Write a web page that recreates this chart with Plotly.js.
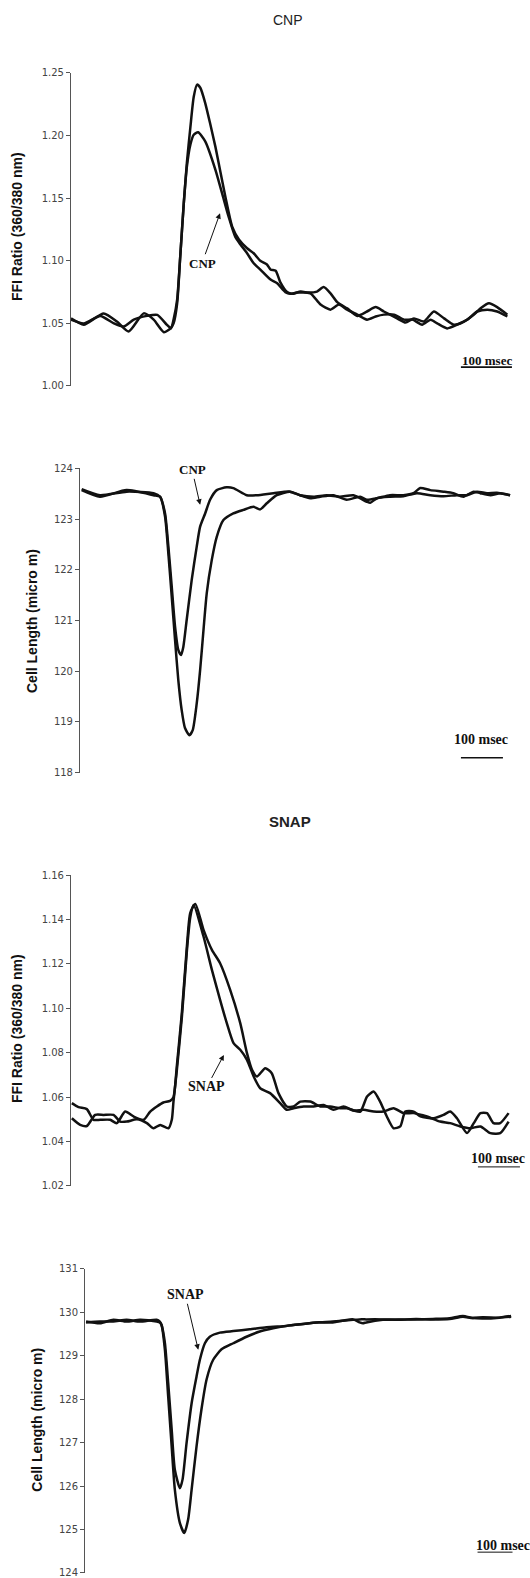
<!DOCTYPE html>
<html>
<head>
<meta charset="utf-8">
<script src="https://cdn.plot.ly/plotly-3.0.1.min.js"></script>
<style>html,body{margin:0;padding:0;background:#fff;}#chart{width:530px;height:1578px;}</style>
</head>
<body>
<div id="chart"></div>
<script>
// ---------- Panel 1: CNP, FFI ratio (time in msec) ----------
var cnpRatioT_A = [0,25,64,90,113,142.5,162,182,195,201,208,214,221,227,234,240.5,247,253.6,263,273,283,292.8,302.6,316,329,345,358,371,384,391,401,410,423.5,433,450,466,482,495,508.5,521.6,541,561,580,597,613,639,655.5,672,691.5,711,731,750,770,789.5,802.6,819,835,855];
var cnpRatioV_A = [1.054,1.049,1.058,1.0515,1.0435,1.058,1.053,1.043,1.046,1.050,1.066,1.103,1.146,1.178,1.207,1.231,1.2407,1.238,1.226,1.209,1.191,1.171,1.151,1.127,1.117,1.110,1.106,1.100,1.097,1.093,1.092,1.083,1.075,1.0736,1.0754,1.0746,1.0754,1.079,1.074,1.067,1.062,1.056,1.0595,1.063,1.0595,1.054,1.0507,1.054,1.0515,1.0595,1.054,1.049,1.0515,1.057,1.062,1.066,1.063,1.057];
var cnpRatioT_B = [0,25,57.5,84,103,123,149,169,188,196,201,208,214,221,227,234,240.5,249,263,283,296,309,322,332,345,358,371,391,404,420,430,443,469,489,508.5,525,541,561,580,597,613,633,652,669,688,704.6,717.6,737,757,776.5,796,816,835,855];
var cnpRatioV_B = [1.053,1.050,1.056,1.050,1.0475,1.053,1.056,1.0568,1.0488,1.046,1.053,1.069,1.103,1.146,1.175,1.193,1.2007,1.2026,1.1954,1.1727,1.154,1.135,1.119,1.113,1.106,1.098,1.093,1.085,1.082,1.075,1.0736,1.0746,1.074,1.065,1.061,1.065,1.061,1.057,1.053,1.0555,1.057,1.057,1.053,1.053,1.049,1.053,1.050,1.046,1.049,1.053,1.0595,1.061,1.0595,1.0555];

// ---------- Panel 2: CNP, cell length ----------
var cnpLenT_C = [0,43.7,107,171,186.6,198.5,206.4,214.4,222.3,230,238,246,256.5,264.4,274,282,290,297.8,309.7,321.6,337.5,361,385,409,425,440.7,464.5,496,520,544,568,599.5,631,663,679,703,734,766,790,806,830,861.5,885,909,933,949,973,996.5,1020];
var cnpLenV_C = [123.57,123.44,123.57,123.47,123.44,123.05,122.32,121.47,120.62,119.83,119.24,118.88,118.74,118.84,119.37,120.02,120.81,121.54,122.19,122.65,122.98,123.11,123.18,123.24,123.19,123.31,123.47,123.54,123.47,123.41,123.44,123.47,123.38,123.44,123.38,123.41,123.47,123.47,123.51,123.61,123.57,123.54,123.51,123.44,123.54,123.51,123.47,123.51,123.47];
var cnpLenT_D = [0,43.7,107,171,186.6,198.5,206.4,214.4,222.3,230,236.6,242,250,262,274,282,294,305.7,321.6,345,361,393,417,456.6,496,520,552,583.6,615,647,679,687,703,734,766,798,830,861.5,893,917,941,965,988.5,1020];
var cnpLenV_D = [123.59,123.47,123.54,123.51,123.44,123.11,122.46,121.67,120.88,120.42,120.32,120.48,121.01,121.80,122.46,122.85,123.11,123.38,123.57,123.625,123.61,123.47,123.47,123.51,123.54,123.47,123.44,123.47,123.44,123.47,123.34,123.32,123.41,123.44,123.45,123.51,123.47,123.45,123.47,123.47,123.54,123.51,123.52,123.47];

// ---------- Panel 3: SNAP, FFI ratio ----------
var snapRatioT_E = [0,15.9,35.7,51.6,67.5,91.3,107,127,147,171,186.6,202.5,218,234,242,250,262,274,282,294,313.6,333.5,353,377,401,417,429,440.7,460.5,476,492,512,528,544,568,591.5,615,639,655,671,687,703,718.6,734,750,766,782,794,814,830,861.5,885,901,917,941,957,973,988.5,1004,1020,1040];
var snapRatioV_E = [1.0573,1.0555,1.0546,1.0498,1.0498,1.0498,1.0483,1.0535,1.0513,1.0498,1.0535,1.0558,1.0576,1.0583,1.060,1.074,1.098,1.128,1.143,1.147,1.1353,1.1263,1.1203,1.1083,1.0933,1.0798,1.0723,1.0693,1.073,1.0708,1.0618,1.0558,1.0558,1.058,1.058,1.0558,1.0558,1.055,1.055,1.054,1.0535,1.0603,1.0625,1.058,1.0513,1.046,1.0468,1.0535,1.0535,1.0513,1.0505,1.052,1.0535,1.0505,1.0438,1.0483,1.0528,1.0528,1.0483,1.0483,1.0528];
var snapRatioT_F = [0,19.9,35.7,55.6,75.4,99.3,115,131,155,178.7,194.5,210.4,230,238,242,250,262,274,282,290,313.6,333.5,353,369,385,401,417,433,448.6,472,496,512,528,552,575.6,599.5,623,647,671,695,718.6,742,766,790,814,845.6,877,901,925,949,973,996.5,1020,1040];
var snapRatioV_F = [1.0505,1.0475,1.047,1.052,1.052,1.052,1.049,1.049,1.050,1.0483,1.046,1.0475,1.046,1.0498,1.058,1.072,1.096,1.126,1.141,1.1465,1.1323,1.1173,1.1038,1.0933,1.0843,1.0813,1.0768,1.0693,1.064,1.0618,1.0573,1.0543,1.055,1.0558,1.0558,1.0565,1.0543,1.0558,1.054,1.0543,1.0535,1.0535,1.055,1.0528,1.0528,1.0513,1.049,1.0483,1.0468,1.046,1.0468,1.0438,1.0438,1.049];

// ---------- Panel 4: SNAP, cell length ----------
var snapLenT_G = [0,40,78,116,154,202,211,216,225.6,235,245,254,268.5,281,292,302,316,330,344.6,363.7,387.5,421,459,497,535,573,592,659,706,763.5,782.5,792,801.6,849,897,944,992,1040,1078,1106,1135,1182,1216];
var snapLenV_G = [129.79,129.75,129.83,129.79,129.83,129.79,129.77,129.71,129.14,128.06,126.91,125.92,125.15,124.92,125.23,125.92,126.91,127.76,128.45,128.91,129.15,129.29,129.44,129.56,129.635,129.69,129.71,129.77,129.77,129.84,129.77,129.75,129.77,129.83,129.84,129.84,129.85,129.865,129.92,129.87,129.86,129.88,129.92];
var snapLenT_H = [0,40,78,116,154,202,211,216,225.6,235,245,254,268.5,276,287.5,302,316,325.6,340,354,383,421,468,516,573,592,659,706,763.5,782.5,801.6,849,897,944,992,1040,1078,1106,1135,1182,1216];
var snapLenV_H = [129.77,129.79,129.79,129.83,129.79,129.83,129.79,129.71,129.29,128.37,127.30,126.38,125.95,126.15,126.99,127.91,128.52,128.91,129.29,129.44,129.535,129.57,129.61,129.66,129.69,129.71,129.77,129.79,129.83,129.84,129.84,129.84,129.83,129.85,129.84,129.85,129.90,129.87,129.89,129.88,129.90];

// ---------- text ----------
var panelTitles = ["CNP", "SNAP"];
var yTitles = ["FFI Ratio (360/380 nm)", "Cell Length (micro m)", "FFI Ratio (360/380 nm)", "Cell Length (micro m)"];
var arrowLabels = ["CNP", "CNP", "SNAP", "SNAP"];
var scaleLabel = "100 msec";
var scaleLength = 100; // msec

var lineStyle = {color: '#111', width: 2.5, shape: 'spline', smoothing: 0.6};
function tr(x, y, xa, ya) {
  return {x: x, y: y, xaxis: xa, yaxis: ya, type: 'scatter', mode: 'lines', line: lineStyle, hoverinfo: 'skip'};
}
var data = [
  tr(cnpRatioT_A, cnpRatioV_A, 'x', 'y'),
  tr(cnpRatioT_B, cnpRatioV_B, 'x', 'y'),
  tr(cnpLenT_C, cnpLenV_C, 'x2', 'y2'),
  tr(cnpLenT_D, cnpLenV_D, 'x2', 'y2'),
  tr(snapRatioT_E, snapRatioV_E, 'x3', 'y3'),
  tr(snapRatioT_F, snapRatioV_F, 'x3', 'y3'),
  tr(snapLenT_G, snapLenV_G, 'x4', 'y4'),
  tr(snapLenT_H, snapLenV_H, 'x4', 'y4')
];

function xax(dom, rng, anchor) {
  return {domain: dom, range: rng, visible: false, anchor: anchor, fixedrange: true};
}
function yax(dom, rng, dtick, fmt, anchor) {
  return {domain: dom, range: rng, anchor: anchor, showline: true, linecolor: '#555', linewidth: 1,
    ticks: 'outside', ticklen: 4, tickcolor: '#555', tickwidth: 1, dtick: dtick, tick0: rng[0], tickformat: fmt,
    ticklabeloverflow: 'allow',
    tickfont: {family: 'DejaVu Sans', size: 10, color: '#444'}, showgrid: false, zeroline: false, fixedrange: true};
}

var serifBold = 'Liberation Serif';
function arrowAnn(xr, yr, x, y, ax, ay, text, size) {
  return {xref: xr, yref: yr, x: x, y: y, ax: ax, ay: ay, text: '<b>' + text + '</b>', showarrow: true,
    arrowhead: 2, arrowsize: 1.1, arrowwidth: 1, arrowcolor: '#111', standoff: 0,
    font: {family: serifBold, size: size, color: '#111'}};
}
function scaleAnn(xr, yr, x, y, size, xanchor) {
  return {xref: xr, yref: yr, x: x, y: y, text: '<b>' + scaleLabel + '</b>', showarrow: false,
    xanchor: xanchor || 'center', yanchor: 'middle', font: {family: serifBold, size: size, color: '#111'}};
}
function yTitle(x, y, text) {
  return {xref: 'paper', yref: 'paper', x: x, y: y, text: '<b>' + text + '</b>', showarrow: false, textangle: -90,
    xanchor: 'center', yanchor: 'middle', font: {family: 'Liberation Sans, Arial', size: 14, color: '#111'}};
}
function bar(xr, yr, x0, y, w) {
  return {type: 'line', xref: xr, yref: yr, x0: x0, x1: x0 + scaleLength, y0: y, y1: y, line: {color: '#111', width: w}};
}

var layout = {
  width: 530, height: 1578,
  margin: {l: 0, r: 0, t: 0, b: 0},
  paper_bgcolor: '#fff', plot_bgcolor: '#fff',
  showlegend: false,
  xaxis: xax([0.13396, 0.97170], [0, 870], 'y'),
  yaxis: yax([0.75539, 0.95374], [1.00, 1.25], 0.05, '.2f', 'x'),
  xaxis2: xax([0.15094, 0.96717], [-4, 1026], 'y2'),
  yaxis2: yax([0.51033, 0.70323], [118, 124], 1, 'd', 'x2'),
  xaxis3: xax([0.13396, 0.98340], [-2, 1070], 'y3'),
  yaxis3: yax([0.24842, 0.44550], [1.02, 1.16], 0.02, '.2f', 'x3'),
  xaxis4: xax([0.16038, 1.0], [-3, 1270], 'y4'),
  yaxis4: yax([0.00317, 0.19582], [124, 131], 1, 'd', 'x4'),
  annotations: [
    {xref: 'paper', yref: 'paper', x: 0.5434, y: 0.98733, text: panelTitles[0], showarrow: false,
     xanchor: 'center', yanchor: 'middle', font: {family: 'Liberation Sans, Arial', size: 14, color: '#222'}},
    {xref: 'paper', yref: 'paper', x: 0.5472, y: 0.47928, text: '<b>' + panelTitles[1] + '</b>', showarrow: false,
     xanchor: 'center', yanchor: 'middle', font: {family: 'Liberation Sans, Arial', size: 15, color: '#222'}},
    yTitle(0.0321, 0.85615, yTitles[0]),
    yTitle(0.0604, 0.60646, yTitles[1]),
    yTitle(0.0321, 0.34791, yTitles[2]),
    yTitle(0.0692, 0.10013, yTitles[3]),
    arrowAnn('x', 'y', 292, 1.138, -18, 50, arrowLabels[0], 13),
    arrowAnn('x2', 'y2', 282, 123.28, -8, -35, arrowLabels[1], 13),
    arrowAnn('x3', 'y3', 362, 1.079, -17, 32, arrowLabels[2], 14),
    arrowAnn('x4', 'y4', 321, 129.14, -13, -55, arrowLabels[3], 14),
    scaleAnn('x', 'y', 815, 1.0207, 13),
    scaleAnn('x2', 'y2', 950, 118.664, 14),
    scaleAnn('x3', 'y3', 1015, 1.0322, 14),
    scaleAnn('x4', 'y4', 1111, 124.64, 14, 'left')
  ],
  shapes: [
    bar('x', 'y', 764, 1.015, 1.8),
    bar('x2', 'y2', 903, 118.295, 1.5),
    bar('x3', 'y3', 967, 1.0286, 1),
    bar('x4', 'y4', 1120, 124.48, 1)
  ]
};

Plotly.newPlot('chart', data, layout, {staticPlot: true, displayModeBar: false});
</script>
</body>
</html>
